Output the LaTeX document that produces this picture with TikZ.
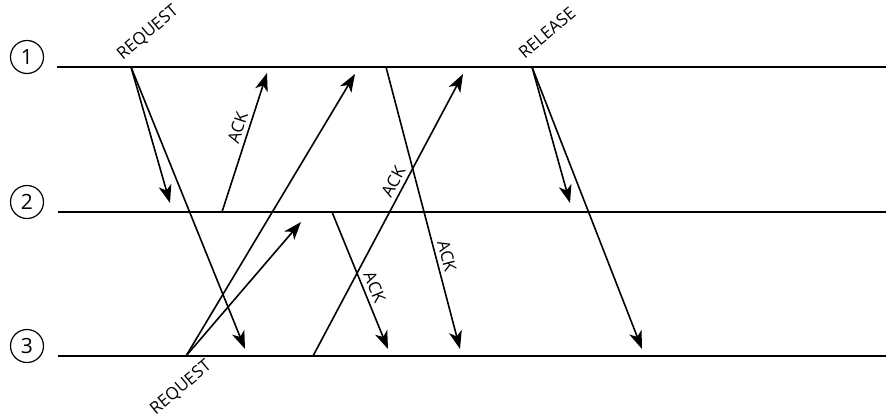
\documentclass[tikz,border=0pt]{standalone}
\usepackage{fontspec}
\setmainfont{Open Sans}
\usetikzlibrary{arrows.meta}
\tikzset{
  proc/.style={line width=1.9pt},
  msg/.style={line width=1.6pt,-{Stealth[length=18pt,width=13pt,inset=5pt]}},
  pnum/.style={circle,draw,line width=1.2pt,minimum size=33pt,inner sep=0pt,font=\fontsize{21}{23}\selectfont},
  lbl/.style={font=\fontsize{17}{19}\selectfont,inner sep=1pt},
  ack/.style={lbl,sloped,above=3pt}
}
\begin{document}
\begin{tikzpicture}[x=1pt,y=-1pt]
\useasboundingbox (0,0) rectangle (886,418);
% the three processes
\node[pnum] (p1) at (27,57) {1};
\node[pnum] (p2) at (27,202) {2};
\node[pnum] (p3) at (27,346) {3};
\coordinate (s1) at (57,67);  \coordinate (t1) at (886,67);
\coordinate (s2) at (58,212); \coordinate (t2) at (886,212);
\coordinate (s3) at (58,356); \coordinate (t3) at (886,356);
\draw[proc] (s1) -- (t1);
\draw[proc] (s2) -- (t2);
\draw[proc] (s3) -- (t3);
% events on the time lines
\coordinate (req1) at (131,67);
\coordinate (req3) at (186,356);
\coordinate (ack12) at (222,212);
\coordinate (ack13) at (386,67);
\coordinate (ack23) at (332,212);
\coordinate (ack31) at (313,356);
\coordinate (rel1) at (532,67);
% where the messages arrive
\coordinate (req1at2) at (170,203);
\coordinate (req1at3) at (245,349);
\coordinate (req3at1) at (355,74);
\coordinate (req3at2) at (301,222);
\coordinate (ack12at1) at (267,73);
\coordinate (ack13at3) at (460,349);
\coordinate (ack23at3) at (388,349);
\coordinate (ack31at1) at (463,74);
\coordinate (rel1at2) at (570,203);
\coordinate (rel1at3) at (642,349);
% messages
\draw[msg] (req1) -- (req1at2);
\draw[msg] (req1) -- (req1at3);
\draw[msg] (req3) -- (req3at1);
\draw[msg] (req3) -- (req3at2);
\draw[msg] (ack12) -- node[ack,pos=0.58] (k12) {ACK} (ack12at1);
\draw[msg] (ack13) -- node[ack,pos=0.68] (k13) {ACK} (ack13at3);
\draw[msg] (ack23) -- node[ack,pos=0.58] (k23) {ACK} (ack23at3);
\draw[msg] (ack31) -- node[ack,pos=0.6] (k31) {ACK} (ack31at1);
\draw[msg] (rel1) -- (rel1at2);
\draw[msg] (rel1) -- (rel1at3);
% message names
\node[lbl,rotate=40] (nreq1) at (148,33) {REQUEST};
\node[lbl,rotate=40] (nrel1) at (547,33) {RELEASE};
\node[lbl,rotate=40] (nreq3) at (181,388) {REQUEST};
\end{tikzpicture}
\end{document}
